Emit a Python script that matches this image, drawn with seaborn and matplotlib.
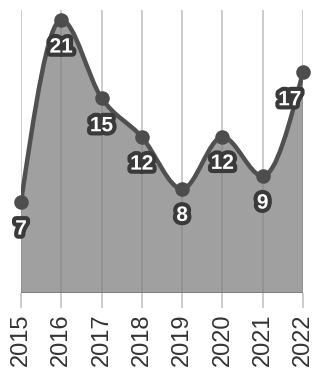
import numpy as np
import matplotlib
matplotlib.use("Agg")
import matplotlib.pyplot as plt
import matplotlib.patheffects as pe
from matplotlib.path import Path
from matplotlib.patches import PathPatch
import seaborn as sns
import pandas as pd

years = ["2015", "2016", "2017", "2018", "2019", "2020", "2021", "2022"]
values = [7, 21, 15, 12, 8, 12, 9, 17]
label_dx = [0, 0, 0, 0, 0, 0, 0, -9.5]   # points
label_dy = [-19.5, -19.5, -20, -19.5, -19, -19, -19.5, -20]

sns.set_style("white")
plt.rcParams['font.family'] = ['Liberation Sans', 'DejaVu Sans']

W, H = 313, 372
fig = plt.figure(figsize=(W / 100, H / 100), dpi=100)
ax = fig.add_axes([21 / W, (H - 293) / H, (303 - 21) / W, 283 / H])

x = np.arange(len(values), dtype=float)
y = np.array(values, dtype=float)

# monotone-X tangents (d3 style)
n = len(x)
t = np.zeros(n)
for i in range(1, n - 1):
    h0, h1 = x[i] - x[i - 1], x[i + 1] - x[i]
    s0, s1 = (y[i] - y[i - 1]) / h0, (y[i + 1] - y[i]) / h1
    p = (s0 * h1 + s1 * h0) / (h0 + h1)
    t[i] = (np.sign(s0) + np.sign(s1)) * min(abs(s0), abs(s1), 0.5 * abs(p))
t[0] = (3 * (y[1] - y[0]) / (x[1] - x[0]) - t[1]) / 2
t[-1] = (3 * (y[-1] - y[-2]) / (x[-1] - x[-2]) - t[-2]) / 2

verts = [(x[0], y[0])]
codes = [Path.MOVETO]
for i in range(n - 1):
    h = x[i + 1] - x[i]
    verts += [(x[i] + h / 3, y[i] + h * t[i] / 3),
              (x[i + 1] - h / 3, y[i + 1] - h * t[i + 1] / 3),
              (x[i + 1], y[i + 1])]
    codes += [Path.CURVE4] * 3

line_path = Path(verts, codes)
fill_path = Path(verts + [(x[-1], 0), (x[0], 0), (x[0], y[0])],
                 codes + [Path.LINETO, Path.LINETO, Path.CLOSEPOLY])

ax.add_patch(PathPatch(fill_path, facecolor="#a0a0a0", edgecolor="none", zorder=1))
ax.vlines(x, 0, y, color="#909090", lw=1.2, zorder=1.5)
ax.add_patch(PathPatch(line_path, facecolor="none", edgecolor="#505050",
                       lw=3.2, zorder=3, capstyle="round", joinstyle="round"))
ax.axhline(0, color="#7a7a7a", lw=2, zorder=2)

df = pd.DataFrame({"x": x, "y": y})
sns.scatterplot(data=df, x="x", y="y", ax=ax, s=110, color="#4d4d4d",
                edgecolor="#4d4d4d", linewidth=0, zorder=4, clip_on=False)

for xi, yi, v, dx, dy in zip(x, y, values, label_dx, label_dy):
    ax.annotate(str(v), (xi, yi), xytext=(dx, dy), textcoords="offset points",
                ha="center", va="center", fontsize=15, fontweight="bold",
                color="white", zorder=6, annotation_clip=False,
                path_effects=[pe.withStroke(linewidth=6, foreground="#3a3a3a")])

ax.set_xlim(0, n - 1)
ax.set_ylim(0, 21.77)
ax.set_xticks(x)
ax.set_xticklabels(years, rotation=90, fontsize=17, color="#333333")
ax.set_yticks([])
ax.grid(axis="x", color="#c8c8c8", lw=1.3, zorder=0)
ax.set_axisbelow(True)
ax.tick_params(axis="x", length=11, width=1.3, color="#c8c8c8", pad=4,
               bottom=True, direction="out")
for s in ax.spines.values():
    s.set_visible(False)
ax.set_xlabel("")
ax.set_ylabel("")

fig.savefig("out.png", dpi=100)
